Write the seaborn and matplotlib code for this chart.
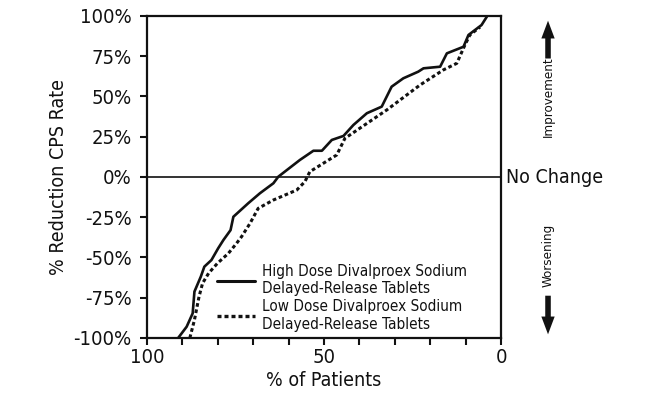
import numpy as np
import pandas as pd
import seaborn as sns
from matplotlib import pyplot as plt
from matplotlib.lines import Line2D
from matplotlib.patches import FancyArrowPatch

# values (x = % of patients, y = % reduction)
high_x = [91.2, 88.8, 87.1, 86.6, 84.8, 83.8, 81.8, 79.9, 78.4, 76.4, 75.6, 71.4, 68.1,
          64.3, 62.9, 60.5, 56.8, 53.0, 50.6, 47.8, 44.5, 41.7, 37.9, 33.7, 30.9, 27.6,
          23.4, 21.9, 17.2, 15.3, 10.6, 9.2, 5.5, 4.0]
high_y = [-100, -93.0, -84.7, -71.2, -61.9, -55.7, -51.6, -44.3, -39.1, -33.0, -24.7, -16.3,
          -10.1, -3.9, 0.2, 4.3, 10.6, 16.3, 16.3, 23.0, 25.5, 32.3, 39.6, 43.7, 56.1, 61.3,
          65.4, 67.5, 68.5, 76.8, 80.9, 88.2, 94.4, 99.6]

low_x = [87.9, 86.6, 85.3, 84.3, 82.6, 80.1, 77.0, 74.7, 73.3, 70.9, 68.6, 64.3, 57.7,
         55.4, 54.0, 46.4, 44.1, 32.3, 22.9, 16.3, 12.5, 10.2, 8.8, 6.4, 5.9]
low_y = [-100, -88.8, -74.3, -66.0, -59.8, -53.6, -47.4, -41.2, -37.1, -28.8, -19.5, -14.3,
         -8.1, -2.9, 3.3, 13.7, 24.0, 41.6, 57.1, 66.5, 70.6, 82.0, 88.2, 92.4, 93.0]

y_ticks = [-100, -75, -50, -25, 0, 25, 50, 75, 100]
x_major = [100, 50, 0]
x_minor = list(range(0, 101, 10))

high_label = "High Dose Divalproex Sodium\nDelayed-Release Tablets"
low_label = "Low Dose Divalproex Sodium\nDelayed-Release Tablets"

ink = "#111111"

sns.set_style("ticks")
plt.rcParams['font.family'] = ['DejaVu Sans']
plt.rcParams['font.stretch'] = 'condensed'

fig = plt.figure(figsize=(6.49, 3.98), dpi=100)
ax = fig.add_axes([0.2265, 0.1508, 0.5455, 0.809])

high = pd.DataFrame({"x": high_x, "y": high_y})
low = pd.DataFrame({"x": low_x, "y": low_y})
sns.lineplot(data=high, x="x", y="y", ax=ax, color=ink, lw=1.9,
             estimator=None, sort=False)
sns.lineplot(data=low, x="x", y="y", ax=ax, color=ink, lw=2.2,
             linestyle=(0, (1.2, 0.9)), estimator=None, sort=False)

ax.axhline(0, color=ink, lw=1.2)

ax.set_xlim(100, 0)
ax.set_ylim(-100, 100)
ax.set_xticks(x_major)
ax.set_xticks(x_minor, minor=True)
ax.set_xticklabels([str(v) for v in x_major])
ax.set_yticks(y_ticks)
ax.set_yticklabels([f"{v}%" for v in y_ticks])
ax.tick_params(which="both", direction="out", length=5, width=1.5, color=ink,
               labelsize=14.5, labelcolor=ink)
ax.tick_params(axis="y", pad=6)
ax.tick_params(axis="x", pad=2)
for s in ax.spines.values():
    s.set_linewidth(1.6)
    s.set_color(ink)

ax.set_xlabel("% of Patients", fontsize=14, color=ink, labelpad=3)
ax.set_ylabel("% Reduction CPS Rate", fontsize=14, color=ink, labelpad=4)

handles = [Line2D([], [], color=ink, lw=2.2),
           Line2D([], [], color=ink, lw=2.4, linestyle=(0, (1.2, 0.9)))]
ax.legend(handles, [high_label, low_label], loc="lower left",
          bbox_to_anchor=(0.181, 0.0), frameon=False, fontsize=11,
          handlelength=2.5, handletextpad=0.45, labelspacing=0.2,
          borderaxespad=0.0, labelcolor=ink)

fig.text(0.779, 0.555, "No Change", fontsize=14, color=ink, va="center", ha="left")
fig.text(0.8444, 0.7575, "Improvement", fontsize=9.5, rotation=90, color=ink,
         va="center", ha="center")
fig.text(0.8444, 0.358, "Worsening", fontsize=9.5, rotation=90, color=ink,
         va="center", ha="center")
arrow_style = "simple,head_width=1.2,head_length=1.6,tail_width=0.5"
fig.add_artist(FancyArrowPatch((0.8444, 0.846), (0.8444, 0.955), transform=fig.transFigure,
                               arrowstyle=arrow_style, mutation_scale=8, color=ink, lw=0))
fig.add_artist(FancyArrowPatch((0.8444, 0.264), (0.8444, 0.153), transform=fig.transFigure,
                               arrowstyle=arrow_style, mutation_scale=8, color=ink, lw=0))

fig.savefig("out.png", dpi=100)
